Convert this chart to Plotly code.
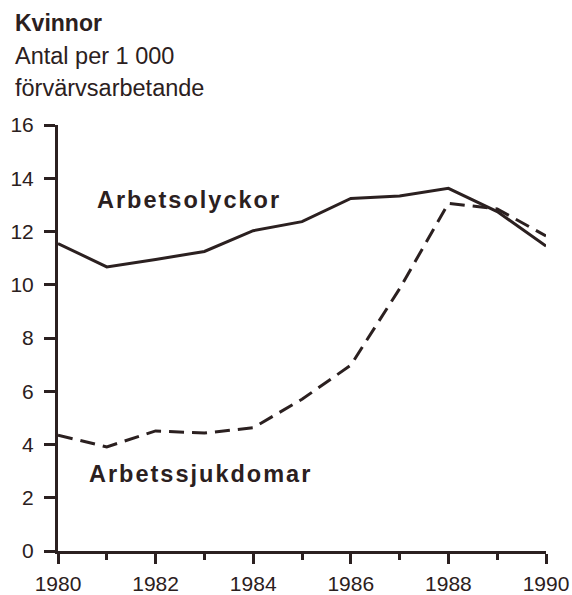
import plotly.graph_objects as go

years = [1980, 1981, 1982, 1983, 1984, 1985, 1986, 1987, 1988, 1989, 1990]
arbetsolyckor = [11.55, 10.67, 10.95, 11.25, 12.03, 12.37, 13.24, 13.33, 13.62, 12.75, 11.45]
arbetssjukdomar = [4.35, 3.91, 4.51, 4.43, 4.63, 5.7, 6.98, 9.85, 13.06, 12.85, 11.83]
y_ticks = [0, 2, 4, 6, 8, 10, 12, 14, 16]
x_major = [1980, 1982, 1984, 1986, 1988, 1990]
x_minor = [1981, 1983, 1985, 1987, 1989]

ink = "#2b2020"
font = "Liberation Sans, Arial, sans-serif"

W, H = 572, 595
X0, X1, Y0, Y1 = 58, 546, 125, 551  # target plot box in page pixels
L, T = X0, Y0
R, B = W - X1, H - Y1
pw, ph = X1 - X0, Y1 - Y0

def px(x):
    return (x - X0) / pw

def py(y):
    return (Y1 - y) / ph

fig = go.Figure()
fig.add_trace(go.Scatter(x=years, y=arbetsolyckor, mode="lines",
                         line=dict(color=ink, width=3), cliponaxis=False,
                         name="Arbetsolyckor"))
fig.add_trace(go.Scatter(x=years, y=arbetssjukdomar, mode="lines",
                         line=dict(color=ink, width=3, dash="15px,8px"),
                         cliponaxis=False, name="Arbetssjukdomar"))

fig.update_layout(
    width=W, height=H,
    margin=dict(l=L, r=R, t=T, b=B, autoexpand=False),
    paper_bgcolor="#ffffff", plot_bgcolor="#ffffff",
    showlegend=False,
    font=dict(family=font, color=ink, size=20),
    xaxis=dict(range=[1980, 1990], tickmode="array", tickvals=x_major,
               ticktext=[str(y) for y in x_major],
               ticks="outside", ticklen=10, tickwidth=3, tickcolor=ink,
               minor=dict(tickmode="array", tickvals=x_minor, ticks="outside",
                          ticklen=6, tickwidth=3, tickcolor=ink, showgrid=False),
               showline=True, linecolor=ink, linewidth=3, showgrid=False,
               zeroline=False, tickfont=dict(size=21), ticklabelstandoff=2),
    yaxis=dict(range=[0, 16], tickmode="array", tickvals=y_ticks,
               ticks="outside", ticklen=11, tickwidth=3, tickcolor=ink,
               showline=True, linecolor=ink, linewidth=3, showgrid=False,
               zeroline=False, tickfont=dict(size=21), ticklabelstandoff=6),
)

annotations = [
    dict(text="<b>Kvinnor</b>", x=px(13), y=py(23), size=23),
    dict(text="Antal per 1 000", x=px(13), y=py(56), size=23.5),
    dict(text="förvärvsarbetande", x=px(13), y=py(88), size=23.5),
]
for a in annotations:
    fig.add_annotation(text=a["text"], xref="paper", yref="paper",
                       x=a["x"], y=a["y"], xanchor="left", yanchor="middle",
                       showarrow=False, font=dict(size=a["size"], color=ink, family=font))

fig.add_annotation(text="<b>Arbetsolyckor</b>", x=1982.69, y=13.18, showarrow=False,
                   xanchor="center", yanchor="middle",
                   font=dict(size=23.5, color=ink, family=font))
fig.add_annotation(text="<b>Arbetssjukdomar</b>", x=1982.91, y=2.88, showarrow=False,
                   xanchor="center", yanchor="middle",
                   font=dict(size=23.5, color=ink, family=font))

post = """
document.body.style.margin = '0px';
document.body.style.overflow = 'hidden';
document.querySelectorAll('g.annotation text').forEach(function(t){
  var s = t.textContent;
  if (s === 'Arbetsolyckor' || s === 'Arbetssjukdomar') { t.style.letterSpacing = '2px'; }
});
"""
fig.write_html("out.html", post_script=post,
               config={"displayModeBar": False, "staticPlot": True})
